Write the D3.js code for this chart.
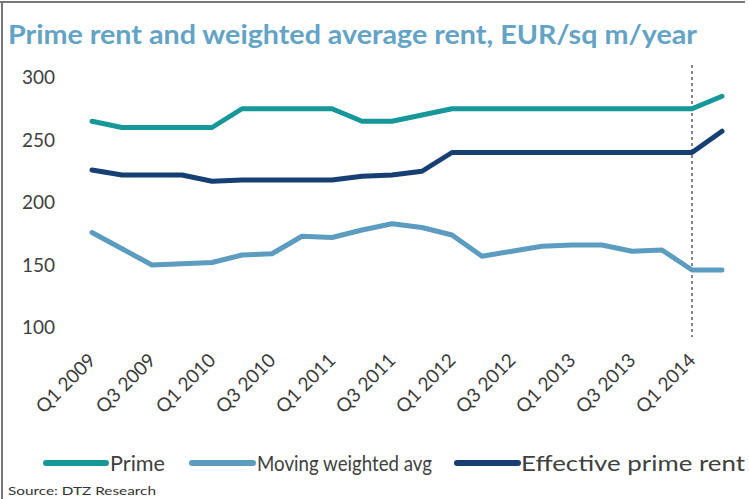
<!DOCTYPE html>
<html><head><meta charset="utf-8">
<script src="https://cdn.jsdelivr.net/npm/d3@7"></script>
<style>body{margin:0;background:#fff}svg{display:block}text{font-family:Lato,"Open Sans",sans-serif}</style>
</head><body><svg id="c" width="749" height="499"></svg>
<script>
const quarters = ["Q1 2009","Q2 2009","Q3 2009","Q4 2009","Q1 2010","Q2 2010","Q3 2010","Q4 2010","Q1 2011","Q2 2011","Q3 2011","Q4 2011","Q1 2012","Q2 2012","Q3 2012","Q4 2012","Q1 2013","Q2 2013","Q3 2013","Q4 2013","Q1 2014","Q2 2014"];
const tickLabels = ["Q1 2009","Q3 2009","Q1 2010","Q3 2010","Q1 2011","Q3 2011","Q1 2012","Q3 2012","Q1 2013","Q3 2013","Q1 2014"];
const prime = [265,260,260,260,260,275,275,275,275,265,265,270,275,275,275,275,275,275,275,275,275,285];
const movingAvg = [176,163,150,151,152,158,159,173,172,178,183,180,174,157,161,165,166,166,161,162,146,146];
const effective = [226,222,222,222,217,218,218,218,218,221,222,225,240,240,240,240,240,240,240,240,240,257];
const yTicks = [100,150,200,250,300];
const seriesNames = ["Prime","Moving weighted avg","Effective prime rent"];
const colors = ["#16979a","#5b9cc0","#163f73"];

const svg = d3.select("#c");
const x = d3.scalePoint().domain(quarters).range([92, 722]);
const y = d3.scaleLinear().domain([100, 300]).range([327.5, 77.5]);

// frame
svg.append("line").attr("x1",0).attr("x2",745).attr("y1",2).attr("y2",2).attr("stroke","#777").attr("stroke-width",2);
svg.append("line").attr("x1",2).attr("x2",2).attr("y1",2).attr("y2",499).attr("stroke","#777").attr("stroke-width",2);

// title
svg.append("text").attr("x",8).attr("y",44).attr("font-size",27).attr("font-weight","bold")
  .attr("fill","#62a3c6").attr("textLength",689).attr("lengthAdjust","spacingAndGlyphs")
  .text("Prime rent and weighted average rent, EUR/sq m/year");

// y axis labels
const yAxis = d3.axisLeft(y).tickValues(yTicks).tickSize(0).tickPadding(0);
const ya = svg.append("g").attr("transform","translate(55,0)").call(yAxis);
ya.select(".domain").remove();
ya.selectAll("text").attr("font-size",19).attr("fill","#404040").style("font-family","Lato, sans-serif");

// x axis labels
const xAxis = d3.axisBottom(x).tickValues(tickLabels).tickSize(0).tickPadding(0);
const xa = svg.append("g").attr("transform","translate(0,352)").call(xAxis);
xa.select(".domain").remove();
xa.selectAll("text").attr("font-size",19).attr("fill","#3a3a3a").style("font-family","Lato, sans-serif")
  .attr("text-anchor","end").attr("dy","0.7em")
  .attr("transform","translate(-5,0) rotate(-45)").attr("y",0).attr("x",0);

// dashed vertical
svg.append("line").attr("x1",x("Q1 2014")).attr("x2",x("Q1 2014")).attr("y1",65).attr("y2",337)
  .attr("stroke","#444").attr("stroke-width",1.3).attr("stroke-dasharray","3,3");

const line = d3.line().x((d,i)=>x(quarters[i])).y(d=>y(d));
[movingAvg, effective, prime].forEach((s,k)=>{
  const idx = [1,2,0][k];
  svg.append("path").datum(s).attr("d",line).attr("fill","none")
    .attr("stroke",colors[idx]).attr("stroke-width",5).attr("stroke-linejoin","round").attr("stroke-linecap","round");
});

// legend
const legend = [{x1:46,x2:106,tx:110,tw:55},{x1:192,x2:253,tx:257,tw:175},{x1:457,x2:518,tx:521,tw:224}];
legend.forEach((l,i)=>{
  svg.append("line").attr("x1",l.x1).attr("x2",l.x2).attr("y1",463).attr("y2",463)
    .attr("stroke",colors[i]).attr("stroke-width",6).attr("stroke-linecap","round");
  svg.append("text").attr("x",l.tx).attr("y",471).attr("font-size",22).attr("fill","#404040")
    .attr("textLength",l.tw).attr("lengthAdjust","spacingAndGlyphs").text(seriesNames[i]);
});

svg.append("text").attr("x",8).attr("y",495).attr("font-size",12).attr("fill","#333")
  .attr("textLength",148).attr("lengthAdjust","spacingAndGlyphs").text("Source: DTZ Research");
</script></body></html>
